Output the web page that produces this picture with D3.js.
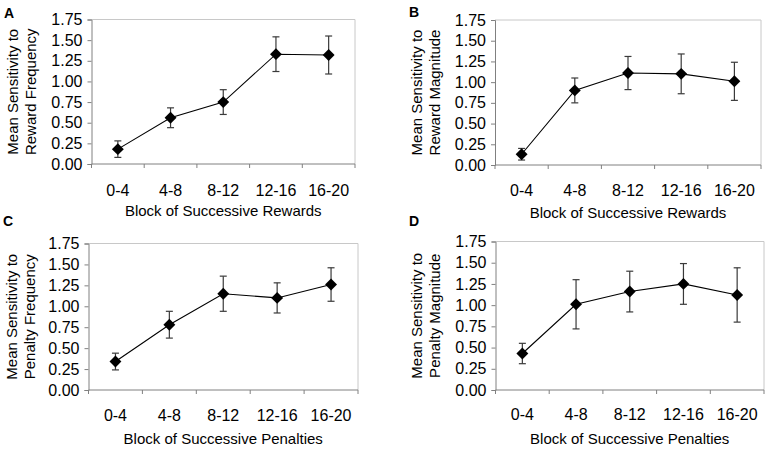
<!DOCTYPE html>
<html><head><meta charset="utf-8">
<script src="https://cdn.jsdelivr.net/npm/d3@7"></script>
<style>
body{margin:0;background:#fff}
text{font-family:"Liberation Sans",Arial,sans-serif;fill:#000}
</style>
</head><body><svg id="chart" width="767" height="449"></svg>
<script>
// ---- data ----
const categories = ["0-4", "4-8", "8-12", "12-16", "16-20"];
const yTickValues = [0, 0.25, 0.5, 0.75, 1.0, 1.25, 1.5, 1.75];
const panelLetters = ["A", "B", "C", "D"];
const yTitles = [
  ["Mean Sensitivity to", "Reward Frequency"],
  ["Mean Sensitivity to", "Reward Magnitude"],
  ["Mean Sensitivity to", "Penalty Frequency"],
  ["Mean Sensitivity to", "Penalty Magnitude"]
];
const xTitles = [
  "Block of Successive Rewards",
  "Block of Successive Rewards",
  "Block of Successive Penalties",
  "Block of Successive Penalties"
];
const rewardFrequencyMean = [0.18, 0.56, 0.75, 1.33, 1.32];
const rewardFrequencyErr  = [0.10, 0.12, 0.15, 0.21, 0.23];
const rewardMagnitudeMean = [0.13, 0.90, 1.11, 1.10, 1.01];
const rewardMagnitudeErr  = [0.07, 0.15, 0.20, 0.24, 0.23];
const penaltyFrequencyMean = [0.34, 0.78, 1.15, 1.10, 1.26];
const penaltyFrequencyErr  = [0.10, 0.16, 0.21, 0.18, 0.20];
const penaltyMagnitudeMean = [0.43, 1.01, 1.16, 1.25, 1.12];
const penaltyMagnitudeErr  = [0.12, 0.29, 0.24, 0.24, 0.32];

const seriesMeans = [rewardFrequencyMean, rewardMagnitudeMean, penaltyFrequencyMean, penaltyMagnitudeMean];
const seriesErrs  = [rewardFrequencyErr, rewardMagnitudeErr, penaltyFrequencyErr, penaltyMagnitudeErr];

// ---- layout (plot rectangles, label positions) ----
const layout = [
  {x0: 91.5, x1: 355, y0: 19.5, y1: 164, titleCx: 22, letterX: 4, letterY: 18, tickLabelY: 196, xTitleY: 216},
  {x0: 495, x1: 761, y0: 20, y1: 165, titleCx: 426, letterX: 409, letterY: 17, tickLabelY: 196, xTitleY: 218},
  {x0: 88.5, x1: 358, y0: 243.5, y1: 390, titleCx: 21, letterX: 3, letterY: 226, tickLabelY: 421, xTitleY: 444},
  {x0: 495.5, x1: 764, y0: 241.5, y1: 390, titleCx: 426, letterX: 409, letterY: 226, tickLabelY: 420, xTitleY: 444}
];

const svg = d3.select("#chart");
const FS = 15;
const TFS = 16;

layout.forEach((L, i) => {
  const g = svg.append("g");
  const x = d3.scaleBand().domain(categories).range([L.x0, L.x1]);
  const y = d3.scaleLinear().domain([0, 1.75]).range([L.y1, L.y0]);

  // frame top/right
  g.append("line").attr("x1", L.x0).attr("x2", L.x1).attr("y1", L.y0).attr("y2", L.y0)
    .attr("stroke", "#c8c8c8").attr("stroke-width", 1);
  g.append("line").attr("x1", L.x1).attr("x2", L.x1).attr("y1", L.y0).attr("y2", L.y1)
    .attr("stroke", "#c8c8c8").attr("stroke-width", 1);

  // y axis
  const yAxis = d3.axisLeft(y).tickValues(yTickValues).tickFormat(d3.format(".2f"))
    .tickSize(4).tickPadding(5);
  const ya = g.append("g").attr("transform", `translate(${L.x0},0)`).call(yAxis);
  ya.select(".domain").attr("stroke", "#808080");
  ya.selectAll(".tick line").attr("stroke", "#808080");
  ya.selectAll(".tick text").attr("font-size", TFS).attr("font-family", "Liberation Sans, Arial, sans-serif").attr("fill", "#000");

  // x axis (ticks at band boundaries)
  const xa = g.append("g").attr("transform", `translate(0,${L.y1})`);
  xa.append("line").attr("x1", L.x0).attr("x2", L.x1).attr("stroke", "#808080");
  const bounds = categories.map(c => x(c)).concat([x(categories[categories.length - 1]) + x.bandwidth()]);
  xa.selectAll("line.tk").data(bounds).join("line").attr("class", "tk")
    .attr("x1", d => d).attr("x2", d => d).attr("y1", 0).attr("y2", 4).attr("stroke", "#808080");
  g.selectAll("text.xl").data(categories).join("text").attr("class", "xl")
    .attr("x", d => x(d) + x.bandwidth() / 2).attr("y", L.tickLabelY)
    .attr("text-anchor", "middle").attr("font-size", TFS).text(d => d);

  // titles
  g.append("text").attr("x", (L.x0 + L.x1) / 2).attr("y", L.xTitleY)
    .attr("text-anchor", "middle").attr("font-size", FS).text(xTitles[i]);
  const yt = g.append("text").attr("transform", `translate(${L.titleCx},${(L.y0 + L.y1) / 2}) rotate(-90)`)
    .attr("text-anchor", "middle").attr("font-size", FS);
  yt.append("tspan").attr("x", 0).attr("y", -4).text(yTitles[i][0]);
  yt.append("tspan").attr("x", 0).attr("y", 14).text(yTitles[i][1]);

  g.append("text").attr("x", L.letterX).attr("y", L.letterY).attr("font-size", 14)
    .attr("font-weight", "bold").text(panelLetters[i]);

  // data
  const data = categories.map((c, k) => ({c, m: seriesMeans[i][k], e: seriesErrs[i][k]}));
  const cx = d => x(d.c) + x.bandwidth() / 2;

  // error bars
  const eb = g.append("g").attr("stroke", "#3a3a3a").attr("stroke-width", 1.2);
  eb.selectAll("line.v").data(data).join("line").attr("class", "v")
    .attr("x1", cx).attr("x2", cx).attr("y1", d => y(d.m + d.e)).attr("y2", d => y(d.m - d.e));
  eb.selectAll("line.t").data(data).join("line").attr("class", "t")
    .attr("x1", d => cx(d) - 3.5).attr("x2", d => cx(d) + 3.5).attr("y1", d => y(d.m + d.e)).attr("y2", d => y(d.m + d.e));
  eb.selectAll("line.b").data(data).join("line").attr("class", "b")
    .attr("x1", d => cx(d) - 3.5).attr("x2", d => cx(d) + 3.5).attr("y1", d => y(d.m - d.e)).attr("y2", d => y(d.m - d.e));

  // line
  g.append("path").datum(data)
    .attr("d", d3.line().x(cx).y(d => y(d.m)))
    .attr("fill", "none").attr("stroke", "#000").attr("stroke-width", 1.1);

  // diamond markers
  g.selectAll("path.mk").data(data).join("path").attr("class", "mk")
    .attr("d", d3.symbol(d3.symbolDiamond2, 90)())
    .attr("transform", d => `translate(${cx(d)},${y(d.m)})`)
    .attr("fill", "#000");
});
</script>
</body></html>
